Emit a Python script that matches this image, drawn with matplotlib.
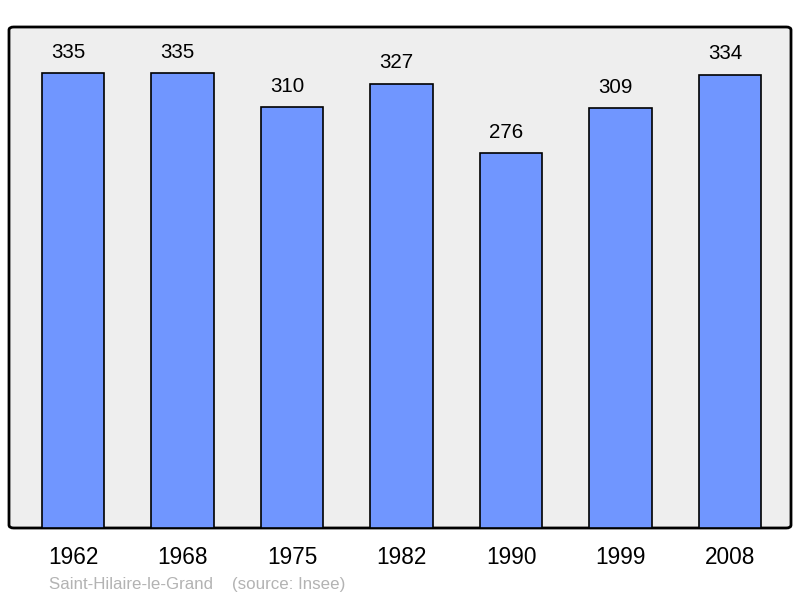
import matplotlib
matplotlib.use("Agg")
import matplotlib.pyplot as plt
from matplotlib.patches import FancyBboxPatch

years = ["1962", "1968", "1975", "1982", "1990", "1999", "2008"]
population = [335, 335, 310, 327, 276, 309, 334]

plt.rcParams['font.family'] = ['Liberation Sans', 'DejaVu Sans']

fig = plt.figure(figsize=(8, 5.98), dpi=100)
ax = fig.add_axes([9/800, 70/598, 782/800, 501/598])
ax.set_facecolor('none')
bg = FancyBboxPatch((0, 0), 1, 1, boxstyle="round,pad=0,rounding_size=0.006",
                    transform=ax.transAxes, facecolor='#eeeeee', edgecolor='black',
                    linewidth=2, zorder=0, clip_on=False)
ax.add_patch(bg)

x = list(range(len(years)))
ax.bar(x, population, width=0.57, color='#7096ff', edgecolor='black', linewidth=1.2, zorder=2)
for xi, v in zip(x, population):
    ax.text(xi - 0.045, v + 15.5, str(v), ha='center', va='center', fontsize=14.8, color='black')

ax.set_xlim(-0.585, 6.555)
ax.set_ylim(0, 369)
for s in ax.spines.values():
    s.set_visible(False)
ax.set_yticks([])
ax.set_xticks(x)
ax.set_xticklabels(years, fontsize=16.3)
ax.tick_params(axis='x', length=0, pad=13)

fig.text(49/800, 1 - 584/598, "Saint-Hilaire-le-Grand    (source: Insee)", fontsize=12.2,
         color='#b3b3b3', ha='left', va='center')

fig.savefig("out.png", dpi=100)
